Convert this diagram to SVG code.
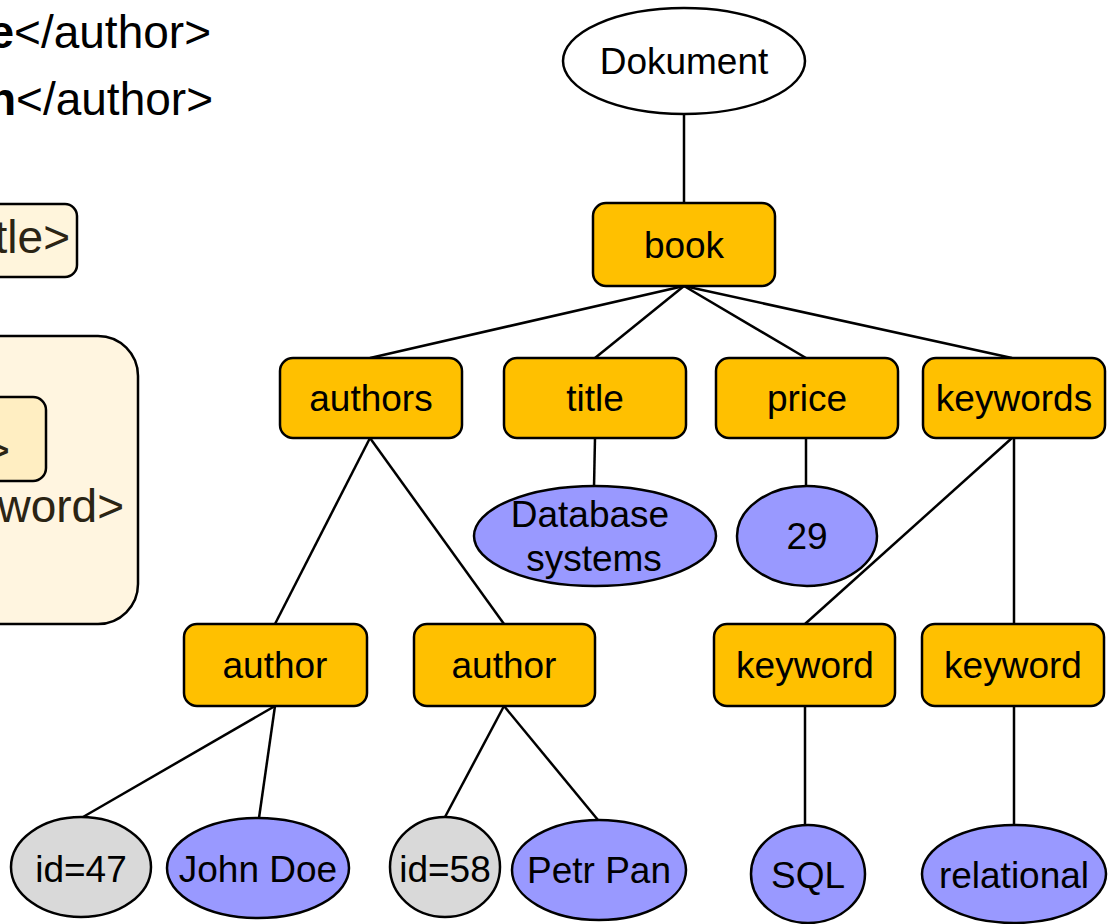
<svg xmlns="http://www.w3.org/2000/svg" width="1109" height="924" viewBox="0 0 1109 924">
<style>
text{font-family:"Liberation Sans",Arial,sans-serif;}
.lbl{font-size:37px;fill:#000;text-anchor:middle;}
.big{font-size:46px;}
.box{fill:#ffc000;stroke:#000;stroke-width:2.5;}
.val{fill:#9999ff;stroke:#000;stroke-width:2.5;}
.att{fill:#d9d9d9;stroke:#000;stroke-width:2.5;}
.root{fill:#fff;stroke:#000;stroke-width:2.5;}
.edge{stroke:#000;stroke-width:2.5;fill:none;}
.xml{fill:#2b2414;}
</style>
<rect width="1109" height="924" fill="#fff"/>
<g id="left-xml">
  <text class="big" x="211" y="48" text-anchor="end"><tspan font-weight="bold">e</tspan>&lt;/author&gt;</text>
  <text class="big" x="213" y="115" text-anchor="end"><tspan font-weight="bold">n</tspan>&lt;/author&gt;</text>
  <rect x="-30" y="204" width="107" height="73" rx="12" fill="#fff5dc" stroke="#000" stroke-width="2.5"/>
  <text class="big xml" x="70" y="253" text-anchor="end">tle&gt;</text>
  <rect x="-60" y="336" width="198" height="288" rx="40" fill="#fff5e0" stroke="#000" stroke-width="2.5"/>
  <rect x="-40" y="397" width="86" height="84" rx="13" fill="#ffeec2" stroke="#000" stroke-width="2.5"/>
  <text class="big xml" x="10" y="466" text-anchor="end">&gt;</text>
  <text class="big xml" x="124" y="522" text-anchor="end">word&gt;</text>
</g>
<g id="connectors">
  <line class="edge" x1="684" y1="114" x2="684" y2="203"/>
  <line class="edge" x1="684" y1="286" x2="370" y2="358"/>
  <line class="edge" x1="684" y1="286" x2="595" y2="358"/>
  <line class="edge" x1="684" y1="286" x2="806" y2="358"/>
  <line class="edge" x1="684" y1="286" x2="1012" y2="358"/>
  <line class="edge" x1="370" y1="438" x2="275" y2="624"/>
  <line class="edge" x1="370" y1="438" x2="504" y2="624"/>
  <line class="edge" x1="595" y1="438" x2="594" y2="487"/>
  <line class="edge" x1="806" y1="438" x2="806" y2="486"/>
  <line class="edge" x1="1012" y1="438" x2="805" y2="624"/>
  <line class="edge" x1="1014" y1="438" x2="1014" y2="624"/>
  <line class="edge" x1="275" y1="706" x2="83" y2="817"/>
  <line class="edge" x1="275" y1="706" x2="259" y2="818"/>
  <line class="edge" x1="504" y1="706" x2="445" y2="817"/>
  <line class="edge" x1="504" y1="706" x2="598" y2="820"/>
  <line class="edge" x1="805" y1="706" x2="805" y2="825"/>
  <line class="edge" x1="1014" y1="706" x2="1014" y2="825"/>
</g>
<g id="dokument"><ellipse class="root" cx="684" cy="61" rx="121" ry="53"/><text class="lbl" x="684" y="74">Dokument</text></g>
<g id="book"><rect class="box" x="593" y="203" width="182" height="83" rx="13"/><text class="lbl" x="684" y="258">book</text></g>
<g id="authors"><rect class="box" x="280" y="358" width="182" height="80" rx="13"/><text class="lbl" x="371" y="411">authors</text></g>
<g id="title"><rect class="box" x="504" y="358" width="182" height="80" rx="13"/><text class="lbl" x="595" y="411">title</text></g>
<g id="price"><rect class="box" x="716" y="358" width="182" height="80" rx="13"/><text class="lbl" x="807" y="411">price</text></g>
<g id="keywords"><rect class="box" x="923" y="358" width="182" height="80" rx="13"/><text class="lbl" x="1014" y="411">keywords</text></g>
<g id="db-systems"><ellipse class="val" cx="595" cy="536" rx="121" ry="50"/><text class="lbl" x="590" y="527">Database</text><text class="lbl" x="594" y="571">systems</text></g>
<g id="price-29"><ellipse class="val" cx="807" cy="536" rx="70" ry="50"/><text class="lbl" x="807" y="549">29</text></g>
<g id="author1"><rect class="box" x="184" y="624" width="183" height="82" rx="13"/><text class="lbl" x="275" y="678">author</text></g>
<g id="author2"><rect class="box" x="414" y="624" width="181" height="82" rx="13"/><text class="lbl" x="504" y="678">author</text></g>
<g id="keyword1"><rect class="box" x="714" y="624" width="181" height="82" rx="13"/><text class="lbl" x="805" y="678">keyword</text></g>
<g id="keyword2"><rect class="box" x="922" y="624" width="182" height="82" rx="13"/><text class="lbl" x="1013" y="678">keyword</text></g>
<g id="id47"><ellipse class="att" cx="81" cy="867" rx="70" ry="50"/><text class="lbl" x="81" y="882">id=47</text></g>
<g id="john-doe"><ellipse class="val" cx="258" cy="868" rx="91" ry="50"/><text class="lbl" x="258" y="882">John Doe</text></g>
<g id="id58"><ellipse class="att" cx="445" cy="867" rx="55" ry="50"/><text class="lbl" x="445" y="882">id=58</text></g>
<g id="petr-pan"><ellipse class="val" cx="599" cy="870" rx="87" ry="50"/><text class="lbl" x="599" y="883">Petr Pan</text></g>
<g id="sql"><ellipse class="val" cx="808" cy="874" rx="57" ry="49"/><text class="lbl" x="808" y="888">SQL</text></g>
<g id="relational"><ellipse class="val" cx="1014" cy="874" rx="92" ry="49"/><text class="lbl" x="1014" y="888">relational</text></g>
</svg>
